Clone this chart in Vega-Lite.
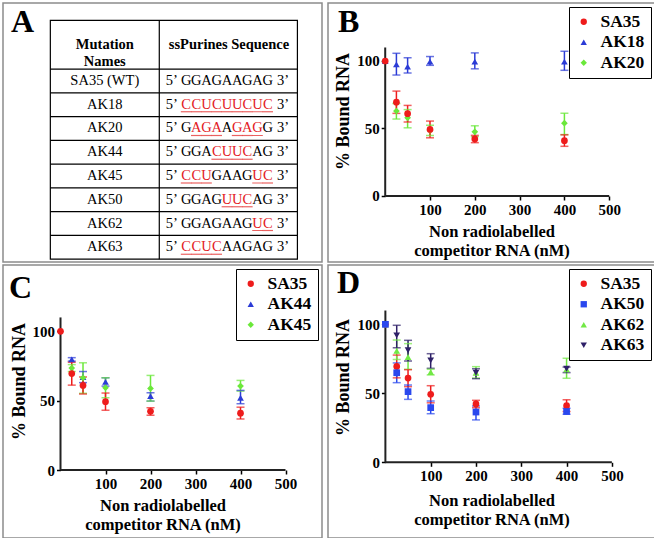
{
  "$schema": "https://vega.github.io/schema/vega-lite/v6.json",
  "background": "white",
  "padding": {"left": 2, "top": 2, "right": 0, "bottom": 0},
  "config": {
    "font": "Liberation Serif",
    "style": {"guide-label": {"font": "Liberation Serif"}, "guide-title": {"font": "Liberation Serif"}},
    "view": {"stroke": "#8c8c8c", "strokeWidth": 1.5},
    "axis": {"labelFont": "Liberation Serif", "labelFontWeight": "bold", "labelFontSize": 15, "labelColor": "black", "titleFont": "Liberation Serif", "titleFontWeight": "bold", "titleFontSize": 16.5, "titleColor": "black", "tickColor": "black", "tickWidth": 1.5, "tickSize": 4, "domain": false, "grid": false, "labelPadding": 2, "labelOverlap": false, "labelFlush": false, "labelBound": false},
    "axisY": {"titleFontSize": 18},
    "legend": {"orient": "top-right", "offset": 4, "strokeColor": "black", "fillColor": "white", "padding": 6, "labelFont": "Liberation Serif", "labelFontWeight": "bold", "labelFontSize": 17.5, "labelColor": "black", "symbolSize": 40, "rowPadding": 1.5, "labelOffset": 8},
    "title": {"font": "Liberation Serif", "fontSize": 32, "fontWeight": "bold", "color": "black", "anchor": "start", "frame": "group"}
  },
  "datasets": {
    "names": [
      {"name": "SA35 (WT)", "row": 1}, {"name": "AK18", "row": 2}, {"name": "AK20", "row": 3}, {"name": "AK44", "row": 4},
      {"name": "AK45", "row": 5}, {"name": "AK50", "row": 6}, {"name": "AK62", "row": 7}, {"name": "AK63", "row": 8}
    ],
    "bases": [
      {"row": 1, "pos": 1, "base": "G", "mut": "no"}, {"row": 1, "pos": 2, "base": "G", "mut": "no"}, {"row": 1, "pos": 3, "base": "A", "mut": "no"}, {"row": 1, "pos": 4, "base": "G", "mut": "no"}, {"row": 1, "pos": 5, "base": "A", "mut": "no"}, {"row": 1, "pos": 6, "base": "A", "mut": "no"}, {"row": 1, "pos": 7, "base": "G", "mut": "no"}, {"row": 1, "pos": 8, "base": "A", "mut": "no"}, {"row": 1, "pos": 9, "base": "G", "mut": "no"},
      {"row": 2, "pos": 1, "base": "C", "mut": "yes"}, {"row": 2, "pos": 2, "base": "C", "mut": "yes"}, {"row": 2, "pos": 3, "base": "U", "mut": "yes"}, {"row": 2, "pos": 4, "base": "C", "mut": "yes"}, {"row": 2, "pos": 5, "base": "U", "mut": "yes"}, {"row": 2, "pos": 6, "base": "U", "mut": "yes"}, {"row": 2, "pos": 7, "base": "C", "mut": "yes"}, {"row": 2, "pos": 8, "base": "U", "mut": "yes"}, {"row": 2, "pos": 9, "base": "C", "mut": "yes"},
      {"row": 3, "pos": 1, "base": "G", "mut": "no"}, {"row": 3, "pos": 2, "base": "A", "mut": "yes"}, {"row": 3, "pos": 3, "base": "G", "mut": "yes"}, {"row": 3, "pos": 4, "base": "A", "mut": "yes"}, {"row": 3, "pos": 5, "base": "A", "mut": "no"}, {"row": 3, "pos": 6, "base": "G", "mut": "yes"}, {"row": 3, "pos": 7, "base": "A", "mut": "yes"}, {"row": 3, "pos": 8, "base": "G", "mut": "yes"}, {"row": 3, "pos": 9, "base": "G", "mut": "no"},
      {"row": 4, "pos": 1, "base": "G", "mut": "no"}, {"row": 4, "pos": 2, "base": "G", "mut": "no"}, {"row": 4, "pos": 3, "base": "A", "mut": "no"}, {"row": 4, "pos": 4, "base": "C", "mut": "yes"}, {"row": 4, "pos": 5, "base": "U", "mut": "yes"}, {"row": 4, "pos": 6, "base": "U", "mut": "yes"}, {"row": 4, "pos": 7, "base": "C", "mut": "yes"}, {"row": 4, "pos": 8, "base": "A", "mut": "no"}, {"row": 4, "pos": 9, "base": "G", "mut": "no"},
      {"row": 5, "pos": 1, "base": "C", "mut": "yes"}, {"row": 5, "pos": 2, "base": "C", "mut": "yes"}, {"row": 5, "pos": 3, "base": "U", "mut": "yes"}, {"row": 5, "pos": 4, "base": "G", "mut": "no"}, {"row": 5, "pos": 5, "base": "A", "mut": "no"}, {"row": 5, "pos": 6, "base": "A", "mut": "no"}, {"row": 5, "pos": 7, "base": "G", "mut": "no"}, {"row": 5, "pos": 8, "base": "U", "mut": "yes"}, {"row": 5, "pos": 9, "base": "C", "mut": "yes"},
      {"row": 6, "pos": 1, "base": "G", "mut": "no"}, {"row": 6, "pos": 2, "base": "G", "mut": "no"}, {"row": 6, "pos": 3, "base": "A", "mut": "no"}, {"row": 6, "pos": 4, "base": "G", "mut": "no"}, {"row": 6, "pos": 5, "base": "U", "mut": "yes"}, {"row": 6, "pos": 6, "base": "U", "mut": "yes"}, {"row": 6, "pos": 7, "base": "C", "mut": "yes"}, {"row": 6, "pos": 8, "base": "A", "mut": "no"}, {"row": 6, "pos": 9, "base": "G", "mut": "no"},
      {"row": 7, "pos": 1, "base": "G", "mut": "no"}, {"row": 7, "pos": 2, "base": "G", "mut": "no"}, {"row": 7, "pos": 3, "base": "A", "mut": "no"}, {"row": 7, "pos": 4, "base": "G", "mut": "no"}, {"row": 7, "pos": 5, "base": "A", "mut": "no"}, {"row": 7, "pos": 6, "base": "A", "mut": "no"}, {"row": 7, "pos": 7, "base": "G", "mut": "no"}, {"row": 7, "pos": 8, "base": "U", "mut": "yes"}, {"row": 7, "pos": 9, "base": "C", "mut": "yes"},
      {"row": 8, "pos": 1, "base": "C", "mut": "yes"}, {"row": 8, "pos": 2, "base": "C", "mut": "yes"}, {"row": 8, "pos": 3, "base": "U", "mut": "yes"}, {"row": 8, "pos": 4, "base": "C", "mut": "yes"}, {"row": 8, "pos": 5, "base": "A", "mut": "no"}, {"row": 8, "pos": 6, "base": "A", "mut": "no"}, {"row": 8, "pos": 7, "base": "G", "mut": "no"}, {"row": 8, "pos": 8, "base": "A", "mut": "no"}, {"row": 8, "pos": 9, "base": "G", "mut": "no"}
    ],
    "pts": [
      {"panel": "B", "series": "AK18", "conc": 0, "mean": 100},
      {"panel": "B", "series": "AK18", "conc": 25, "mean": 97.5, "lo": 89.6, "hi": 105.7},
      {"panel": "B", "series": "AK18", "conc": 50, "mean": 95.8, "lo": 91.1, "hi": 102.4},
      {"panel": "B", "series": "AK18", "conc": 100, "mean": 99.6, "lo": 96.8, "hi": 103.3},
      {"panel": "B", "series": "AK18", "conc": 200, "mean": 99.6, "lo": 94.2, "hi": 106},
      {"panel": "B", "series": "AK18", "conc": 400, "mean": 99.6, "lo": 93.1, "hi": 107.2},
      {"panel": "B", "series": "AK20", "conc": 25, "mean": 62.9, "lo": 57, "hi": 68.5},
      {"panel": "B", "series": "AK20", "conc": 50, "mean": 57.9, "lo": 50.5, "hi": 64},
      {"panel": "B", "series": "AK20", "conc": 100, "mean": 48.5, "lo": 44.8, "hi": 52.4},
      {"panel": "B", "series": "AK20", "conc": 200, "mean": 47.5, "lo": 44, "hi": 52},
      {"panel": "B", "series": "AK20", "conc": 400, "mean": 53.9, "lo": 45.5, "hi": 61.3},
      {"panel": "B", "series": "SA35", "conc": 0, "mean": 100},
      {"panel": "B", "series": "SA35", "conc": 25, "mean": 69.5, "lo": 61.2, "hi": 77.7},
      {"panel": "B", "series": "SA35", "conc": 50, "mean": 61, "lo": 54.8, "hi": 67.1},
      {"panel": "B", "series": "SA35", "conc": 100, "mean": 49.3, "lo": 43.1, "hi": 55.5},
      {"panel": "B", "series": "SA35", "conc": 200, "mean": 42.3, "lo": 39.5, "hi": 44.9},
      {"panel": "B", "series": "SA35", "conc": 400, "mean": 41, "lo": 36.8, "hi": 45.3},
      {"panel": "C", "series": "AK44", "conc": 25, "mean": 79.7, "lo": 78.5, "hi": 81},
      {"panel": "C", "series": "AK44", "conc": 50, "mean": 67, "lo": 63, "hi": 71},
      {"panel": "C", "series": "AK44", "conc": 100, "mean": 63.5, "lo": 60.5, "hi": 66.5},
      {"panel": "C", "series": "AK44", "conc": 200, "mean": 53.3, "lo": 49.7, "hi": 55.7},
      {"panel": "C", "series": "AK44", "conc": 400, "mean": 52.1, "lo": 47.8, "hi": 57.4},
      {"panel": "C", "series": "AK45", "conc": 25, "mean": 73.5, "lo": 71, "hi": 76},
      {"panel": "C", "series": "AK45", "conc": 50, "mean": 66.5, "lo": 55.3, "hi": 77.3},
      {"panel": "C", "series": "AK45", "conc": 100, "mean": 59.3, "lo": 52.1, "hi": 66.5},
      {"panel": "C", "series": "AK45", "conc": 200, "mean": 58.8, "lo": 49.7, "hi": 68.2},
      {"panel": "C", "series": "AK45", "conc": 400, "mean": 60.5, "lo": 56.9, "hi": 64.6},
      {"panel": "C", "series": "SA35", "conc": 0, "mean": 100},
      {"panel": "C", "series": "SA35", "conc": 25, "mean": 69.5, "lo": 61.2, "hi": 77.7},
      {"panel": "C", "series": "SA35", "conc": 50, "mean": 61, "lo": 54.8, "hi": 67.1},
      {"panel": "C", "series": "SA35", "conc": 100, "mean": 49.3, "lo": 43.1, "hi": 55.5},
      {"panel": "C", "series": "SA35", "conc": 200, "mean": 42.3, "lo": 39.5, "hi": 44.9},
      {"panel": "C", "series": "SA35", "conc": 400, "mean": 41, "lo": 36.8, "hi": 45.3},
      {"panel": "D", "series": "SA35", "conc": 0, "mean": 100},
      {"panel": "D", "series": "SA35", "conc": 25, "mean": 69.5, "lo": 61.2, "hi": 77.7},
      {"panel": "D", "series": "SA35", "conc": 50, "mean": 61, "lo": 54.8, "hi": 67.1},
      {"panel": "D", "series": "SA35", "conc": 100, "mean": 49.3, "lo": 43.1, "hi": 55.5},
      {"panel": "D", "series": "SA35", "conc": 200, "mean": 42.3, "lo": 39.5, "hi": 44.9},
      {"panel": "D", "series": "SA35", "conc": 400, "mean": 41, "lo": 36.8, "hi": 45.3},
      {"panel": "D", "series": "AK62", "conc": 0, "mean": 100},
      {"panel": "D", "series": "AK62", "conc": 25, "mean": 80.7, "lo": 74.5, "hi": 88.6},
      {"panel": "D", "series": "AK62", "conc": 50, "mean": 76.3, "lo": 67.4, "hi": 86},
      {"panel": "D", "series": "AK62", "conc": 100, "mean": 65.4, "lo": 63.3, "hi": 67.4},
      {"panel": "D", "series": "AK62", "conc": 200, "mean": 64.9, "lo": 61, "hi": 69.3},
      {"panel": "D", "series": "AK62", "conc": 400, "mean": 67.4, "lo": 60.9, "hi": 75.4},
      {"panel": "D", "series": "AK63", "conc": 0, "mean": 100},
      {"panel": "D", "series": "AK63", "conc": 25, "mean": 92, "lo": 83, "hi": 99.3},
      {"panel": "D", "series": "AK63", "conc": 50, "mean": 81.2, "lo": 73.4, "hi": 88.4},
      {"panel": "D", "series": "AK63", "conc": 100, "mean": 73.9, "lo": 68.1, "hi": 78.7},
      {"panel": "D", "series": "AK63", "conc": 200, "mean": 64.9, "lo": 60.6, "hi": 67.8},
      {"panel": "D", "series": "AK63", "conc": 400, "mean": 67.8, "lo": 65, "hi": 69},
      {"panel": "D", "series": "AK50", "conc": 0, "mean": 100},
      {"panel": "D", "series": "AK50", "conc": 25, "mean": 64.9, "lo": 57.7, "hi": 72},
      {"panel": "D", "series": "AK50", "conc": 50, "mean": 51.2, "lo": 45.6, "hi": 56},
      {"panel": "D", "series": "AK50", "conc": 100, "mean": 39.6, "lo": 35.2, "hi": 44.4},
      {"panel": "D", "series": "AK50", "conc": 200, "mean": 36.4, "lo": 30.7, "hi": 40.8},
      {"panel": "D", "series": "AK50", "conc": 400, "mean": 36.8, "lo": 34.8, "hi": 39.1}
    ]
  },
  "spacing": 1,
  "resolve": {"scale": {"x": "independent", "y": "independent", "color": "independent", "shape": "independent", "stroke": "independent", "fill": "independent"}, "legend": {"color": "independent", "shape": "independent"}},
  "vconcat": [
    {
      "spacing": 4,
      "resolve": {"scale": {"x": "independent", "y": "independent", "color": "independent", "shape": "independent", "stroke": "independent", "fill": "independent"}, "legend": {"color": "independent", "shape": "independent"}},
      "hconcat": [
        {
          "width": 319, "height": 259,
          "title": {"text": "A", "dx": 8, "offset": -36},
          "layer": [
            {"data": {"values": [{}]}, "mark": {"type": "rect", "fill": null, "stroke": "black", "strokeWidth": 1.2},
             "encoding": {"x": {"datum": -12.31, "type": "quantitative", "scale": {"domain": [-16.95, 14.32], "nice": false, "zero": false}, "axis": null}, "x2": {"datum": 11.91},
                          "y": {"datum": -1.556, "type": "quantitative", "scale": {"domain": [-2.284, 8.621], "nice": false, "zero": false, "reverse": true}, "axis": null}, "y2": {"datum": 8.5}}},
            {"data": {"values": [{}]}, "mark": {"type": "rule", "color": "black", "strokeWidth": 1.2},
             "encoding": {"x": {"datum": -1.63, "type": "quantitative"}, "y": {"datum": -1.556, "type": "quantitative"}, "y2": {"datum": 8.5}}},
            {"data": {"values": [{}]}, "mark": {"type": "rule", "color": "black", "strokeWidth": 1.2}, "encoding": {"x": {"datum": -12.31, "type": "quantitative"}, "x2": {"datum": 11.91}, "y": {"datum": 0.5, "type": "quantitative"}}},
            {"data": {"values": [{}]}, "mark": {"type": "rule", "color": "black", "strokeWidth": 1.2}, "encoding": {"x": {"datum": -12.31, "type": "quantitative"}, "x2": {"datum": 11.91}, "y": {"datum": 1.5, "type": "quantitative"}}},
            {"data": {"values": [{}]}, "mark": {"type": "rule", "color": "black", "strokeWidth": 1.2}, "encoding": {"x": {"datum": -12.31, "type": "quantitative"}, "x2": {"datum": 11.91}, "y": {"datum": 2.5, "type": "quantitative"}}},
            {"data": {"values": [{}]}, "mark": {"type": "rule", "color": "black", "strokeWidth": 1.2}, "encoding": {"x": {"datum": -12.31, "type": "quantitative"}, "x2": {"datum": 11.91}, "y": {"datum": 3.5, "type": "quantitative"}}},
            {"data": {"values": [{}]}, "mark": {"type": "rule", "color": "black", "strokeWidth": 1.2}, "encoding": {"x": {"datum": -12.31, "type": "quantitative"}, "x2": {"datum": 11.91}, "y": {"datum": 4.5, "type": "quantitative"}}},
            {"data": {"values": [{}]}, "mark": {"type": "rule", "color": "black", "strokeWidth": 1.2}, "encoding": {"x": {"datum": -12.31, "type": "quantitative"}, "x2": {"datum": 11.91}, "y": {"datum": 5.5, "type": "quantitative"}}},
            {"data": {"values": [{}]}, "mark": {"type": "rule", "color": "black", "strokeWidth": 1.2}, "encoding": {"x": {"datum": -12.31, "type": "quantitative"}, "x2": {"datum": 11.91}, "y": {"datum": 6.5, "type": "quantitative"}}},
            {"data": {"values": [{}]}, "mark": {"type": "rule", "color": "black", "strokeWidth": 1.2}, "encoding": {"x": {"datum": -12.31, "type": "quantitative"}, "x2": {"datum": 11.91}, "y": {"datum": 7.5, "type": "quantitative"}}},
            {"data": {"values": [{}]}, "mark": {"type": "text", "text": ["Mutation", "Names"], "font": "Liberation Serif", "fontWeight": "bold", "fontSize": 14.5, "lineHeight": 17, "baseline": "middle", "align": "center", "color": "black"},
             "encoding": {"x": {"datum": -6.97, "type": "quantitative"}, "y": {"datum": -0.5, "type": "quantitative"}}},
            {"data": {"values": [{}]}, "mark": {"type": "text", "text": "ssPurines Sequence", "font": "Liberation Serif", "fontWeight": "bold", "fontSize": 14.5, "baseline": "middle", "align": "center", "color": "black"},
             "encoding": {"x": {"datum": 5.2, "type": "quantitative"}, "y": {"datum": -0.5, "type": "quantitative"}}},
            {"data": {"name": "names"}, "mark": {"type": "text", "font": "Liberation Serif", "fontSize": 14.5, "baseline": "middle", "align": "center", "color": "black"},
             "encoding": {"x": {"datum": -6.97, "type": "quantitative"}, "y": {"field": "row", "type": "quantitative"}, "text": {"field": "name"}}},
            {"data": {"name": "names"}, "mark": {"type": "text", "text": "5’", "font": "Liberation Serif", "fontSize": 14.5, "baseline": "middle", "align": "right", "color": "black"},
             "encoding": {"x": {"datum": 0.2, "type": "quantitative"}, "y": {"field": "row", "type": "quantitative"}}},
            {"data": {"name": "names"}, "mark": {"type": "text", "text": "3’", "font": "Liberation Serif", "fontSize": 14.5, "baseline": "middle", "align": "left", "color": "black"},
             "encoding": {"x": {"datum": 9.92, "type": "quantitative"}, "y": {"field": "row", "type": "quantitative"}}},
            {"data": {"name": "bases"}, "mark": {"type": "text", "font": "Liberation Serif", "fontSize": 14.5, "baseline": "middle", "align": "center"},
             "encoding": {"x": {"field": "pos", "type": "quantitative"}, "y": {"field": "row", "type": "quantitative"}, "text": {"field": "base"},
                          "color": {"field": "mut", "type": "nominal", "scale": {"domain": ["no", "yes"], "range": ["black", "#e3201e"]}, "legend": null}}},
            {"data": {"name": "bases"}, "transform": [{"filter": "datum.mut === 'yes'"}], "mark": {"type": "tick", "orient": "horizontal", "size": 10.6, "thickness": 1.2, "yOffset": 7, "color": "#e3201e"},
             "encoding": {"x": {"field": "pos", "type": "quantitative"}, "y": {"field": "row", "type": "quantitative"}}}
          ]
        },
        {
          "width": 327, "height": 259,
          "title": {"text": "B", "dx": 10, "offset": -36},
          "layer": [
            {"data": {"values": [{}]}, "mark": {"type": "rule", "color": "#222", "strokeWidth": 2},
             "encoding": {"x": {"datum": 0, "type": "quantitative", "scale": {"domain": [-127.7, 602.2], "nice": false, "zero": false}, "axis": {"values": [100, 200, 300, 400, 500], "offset": -66, "title": ["Non radiolabelled", "competitor RNA (nM)"], "titlePadding": 6, "titleLineHeight": 19}},
                          "y": {"datum": 0, "type": "quantitative", "scale": {"domain": [-48.9, 142.96], "nice": false, "zero": false}, "axis": {"values": [0, 50, 100], "offset": -57.2, "title": "% Bound RNA", "titleY": 108, "titlePadding": 4}}, "y2": {"datum": 110}}},
            {"data": {"values": [{}]}, "mark": {"type": "rule", "color": "#222", "strokeWidth": 2},
             "encoding": {"x": {"datum": 0, "type": "quantitative", "scale": {"domain": [-127.7, 602.2], "nice": false, "zero": false}, "axis": {"values": [100, 200, 300, 400, 500], "offset": -66, "title": ["Non radiolabelled", "competitor RNA (nM)"], "titlePadding": 6, "titleLineHeight": 19}}, "x2": {"datum": 500},
                          "y": {"datum": 0, "type": "quantitative", "scale": {"domain": [-48.9, 142.96], "nice": false, "zero": false}, "axis": {"values": [0, 50, 100], "offset": -57.2, "title": "% Bound RNA", "titleY": 108, "titlePadding": 4}}}},
            {"data": {"name": "pts"}, "transform": [{"filter": "datum.panel === 'B' && isValid(datum.lo)"}], "mark": {"type": "rule", "strokeWidth": 1.5},
             "encoding": {"x": {"field": "conc", "type": "quantitative", "scale": {"domain": [-127.7, 602.2], "nice": false, "zero": false}, "axis": {"values": [100, 200, 300, 400, 500], "offset": -66, "title": ["Non radiolabelled", "competitor RNA (nM)"], "titlePadding": 6, "titleLineHeight": 19}},
                          "y": {"field": "lo", "type": "quantitative", "scale": {"domain": [-48.9, 142.96], "nice": false, "zero": false}, "axis": {"values": [0, 50, 100], "offset": -57.2, "title": "% Bound RNA", "titleY": 108, "titlePadding": 4}}, "y2": {"field": "hi"},
                          "stroke": {"field": "series", "type": "nominal", "scale": {"domain": ["AK20", "AK18", "SA35"], "range": ["#6be83a", "#2b3bd6", "#ee1c1c"]}, "legend": null}}},
            {"data": {"name": "pts"}, "transform": [{"filter": "datum.panel === 'B' && isValid(datum.lo)"}], "mark": {"type": "tick", "orient": "horizontal", "size": 8, "thickness": 1.5},
             "encoding": {"x": {"field": "conc", "type": "quantitative", "scale": {"domain": [-127.7, 602.2], "nice": false, "zero": false}, "axis": {"values": [100, 200, 300, 400, 500], "offset": -66, "title": ["Non radiolabelled", "competitor RNA (nM)"], "titlePadding": 6, "titleLineHeight": 19}},
                          "y": {"field": "lo", "type": "quantitative", "scale": {"domain": [-48.9, 142.96], "nice": false, "zero": false}, "axis": {"values": [0, 50, 100], "offset": -57.2, "title": "% Bound RNA", "titleY": 108, "titlePadding": 4}},
                          "fill": {"field": "series", "type": "nominal", "scale": {"domain": ["AK18", "SA35", "AK20"], "range": ["#2b3bd6", "#ee1c1c", "#6be83a"]}, "legend": null}}},
            {"data": {"name": "pts"}, "transform": [{"filter": "datum.panel === 'B' && isValid(datum.hi)"}], "mark": {"type": "tick", "orient": "horizontal", "size": 8, "thickness": 1.5},
             "encoding": {"x": {"field": "conc", "type": "quantitative", "scale": {"domain": [-127.7, 602.2], "nice": false, "zero": false}, "axis": {"values": [100, 200, 300, 400, 500], "offset": -66, "title": ["Non radiolabelled", "competitor RNA (nM)"], "titlePadding": 6, "titleLineHeight": 19}},
                          "y": {"field": "hi", "type": "quantitative", "scale": {"domain": [-48.9, 142.96], "nice": false, "zero": false}, "axis": {"values": [0, 50, 100], "offset": -57.2, "title": "% Bound RNA", "titleY": 108, "titlePadding": 4}},
                          "fill": {"field": "series", "type": "nominal", "scale": {"domain": ["AK18", "SA35", "AK20"], "range": ["#2b3bd6", "#ee1c1c", "#6be83a"]}, "legend": null}}},
            {"data": {"name": "pts"}, "transform": [{"filter": "datum.panel === 'B'"}], "mark": {"type": "point", "filled": true, "size": 45, "opacity": 1},
             "encoding": {"x": {"field": "conc", "type": "quantitative", "scale": {"domain": [-127.7, 602.2], "nice": false, "zero": false}, "axis": {"values": [100, 200, 300, 400, 500], "offset": -66, "title": ["Non radiolabelled", "competitor RNA (nM)"], "titlePadding": 6, "titleLineHeight": 19}},
                          "y": {"field": "mean", "type": "quantitative", "scale": {"domain": [-48.9, 142.96], "nice": false, "zero": false}, "axis": {"values": [0, 50, 100], "offset": -57.2, "title": "% Bound RNA", "titleY": 108, "titlePadding": 4}},
                          "color": {"field": "series", "type": "nominal", "scale": {"domain": ["SA35", "AK18", "AK20"], "range": ["#ee1c1c", "#2b3bd6", "#6be83a"]}, "legend": {"title": null, "labelFont": "Liberation Serif", "labelFontWeight": "bold"}},
                          "shape": {"field": "series", "type": "nominal", "scale": {"domain": ["SA35", "AK18", "AK20"], "range": ["circle", "triangle-up", "diamond"]}, "legend": {"title": null, "labelFont": "Liberation Serif", "labelFontWeight": "bold"}}}}
          ]
        }
      ]
    },
    {
      "spacing": 4,
      "resolve": {"scale": {"x": "independent", "y": "independent", "color": "independent", "shape": "independent", "stroke": "independent", "fill": "independent"}, "legend": {"color": "independent", "shape": "independent"}},
      "hconcat": [
        {
          "width": 319, "height": 273,
          "title": {"text": "C", "dx": 6, "offset": -40},
          "layer": [
            {"data": {"values": [{}]}, "mark": {"type": "rule", "color": "#222", "strokeWidth": 2},
             "encoding": {"x": {"datum": 0, "type": "quantitative", "scale": {"domain": [-127.8, 581.1], "nice": false, "zero": false}, "axis": {"values": [100, 200, 300, 400, 500], "offset": -68, "title": ["Non radiolabelled", "competitor RNA (nM)"], "titlePadding": 6, "titleLineHeight": 19}},
                          "y": {"datum": 0, "type": "quantitative", "scale": {"domain": [-49, 147.8], "nice": false, "zero": false}, "axis": {"values": [0, 50, 100], "offset": -57.5, "title": "% Bound RNA", "titleY": 116, "titlePadding": 4}}, "y2": {"datum": 110}}},
            {"data": {"values": [{}]}, "mark": {"type": "rule", "color": "#222", "strokeWidth": 2},
             "encoding": {"x": {"datum": 0, "type": "quantitative", "scale": {"domain": [-127.8, 581.1], "nice": false, "zero": false}, "axis": {"values": [100, 200, 300, 400, 500], "offset": -68, "title": ["Non radiolabelled", "competitor RNA (nM)"], "titlePadding": 6, "titleLineHeight": 19}}, "x2": {"datum": 500},
                          "y": {"datum": 0, "type": "quantitative", "scale": {"domain": [-49, 147.8], "nice": false, "zero": false}, "axis": {"values": [0, 50, 100], "offset": -57.5, "title": "% Bound RNA", "titleY": 116, "titlePadding": 4}}}},
            {"data": {"name": "pts"}, "transform": [{"filter": "datum.panel === 'C' && isValid(datum.lo)"}], "mark": {"type": "rule", "strokeWidth": 1.5},
             "encoding": {"x": {"field": "conc", "type": "quantitative", "scale": {"domain": [-127.8, 581.1], "nice": false, "zero": false}, "axis": {"values": [100, 200, 300, 400, 500], "offset": -68, "title": ["Non radiolabelled", "competitor RNA (nM)"], "titlePadding": 6, "titleLineHeight": 19}},
                          "y": {"field": "lo", "type": "quantitative", "scale": {"domain": [-49, 147.8], "nice": false, "zero": false}, "axis": {"values": [0, 50, 100], "offset": -57.5, "title": "% Bound RNA", "titleY": 116, "titlePadding": 4}}, "y2": {"field": "hi"},
                          "stroke": {"field": "series", "type": "nominal", "scale": {"domain": ["AK45", "AK44", "SA35"], "range": ["#6be83a", "#2b3bd6", "#ee1c1c"]}, "legend": null}}},
            {"data": {"name": "pts"}, "transform": [{"filter": "datum.panel === 'C' && isValid(datum.lo)"}], "mark": {"type": "tick", "orient": "horizontal", "size": 8, "thickness": 1.5},
             "encoding": {"x": {"field": "conc", "type": "quantitative", "scale": {"domain": [-127.8, 581.1], "nice": false, "zero": false}, "axis": {"values": [100, 200, 300, 400, 500], "offset": -68, "title": ["Non radiolabelled", "competitor RNA (nM)"], "titlePadding": 6, "titleLineHeight": 19}},
                          "y": {"field": "lo", "type": "quantitative", "scale": {"domain": [-49, 147.8], "nice": false, "zero": false}, "axis": {"values": [0, 50, 100], "offset": -57.5, "title": "% Bound RNA", "titleY": 116, "titlePadding": 4}},
                          "fill": {"field": "series", "type": "nominal", "scale": {"domain": ["AK44", "SA35", "AK45"], "range": ["#2b3bd6", "#ee1c1c", "#6be83a"]}, "legend": null}}},
            {"data": {"name": "pts"}, "transform": [{"filter": "datum.panel === 'C' && isValid(datum.hi)"}], "mark": {"type": "tick", "orient": "horizontal", "size": 8, "thickness": 1.5},
             "encoding": {"x": {"field": "conc", "type": "quantitative", "scale": {"domain": [-127.8, 581.1], "nice": false, "zero": false}, "axis": {"values": [100, 200, 300, 400, 500], "offset": -68, "title": ["Non radiolabelled", "competitor RNA (nM)"], "titlePadding": 6, "titleLineHeight": 19}},
                          "y": {"field": "hi", "type": "quantitative", "scale": {"domain": [-49, 147.8], "nice": false, "zero": false}, "axis": {"values": [0, 50, 100], "offset": -57.5, "title": "% Bound RNA", "titleY": 116, "titlePadding": 4}},
                          "fill": {"field": "series", "type": "nominal", "scale": {"domain": ["AK44", "SA35", "AK45"], "range": ["#2b3bd6", "#ee1c1c", "#6be83a"]}, "legend": null}}},
            {"data": {"name": "pts"}, "transform": [{"filter": "datum.panel === 'C'"}], "mark": {"type": "point", "filled": true, "size": 45, "opacity": 1},
             "encoding": {"x": {"field": "conc", "type": "quantitative", "scale": {"domain": [-127.8, 581.1], "nice": false, "zero": false}, "axis": {"values": [100, 200, 300, 400, 500], "offset": -68, "title": ["Non radiolabelled", "competitor RNA (nM)"], "titlePadding": 6, "titleLineHeight": 19}},
                          "y": {"field": "mean", "type": "quantitative", "scale": {"domain": [-49, 147.8], "nice": false, "zero": false}, "axis": {"values": [0, 50, 100], "offset": -57.5, "title": "% Bound RNA", "titleY": 116, "titlePadding": 4}},
                          "color": {"field": "series", "type": "nominal", "scale": {"domain": ["SA35", "AK44", "AK45"], "range": ["#ee1c1c", "#2b3bd6", "#6be83a"]}, "legend": {"title": null, "labelFont": "Liberation Serif", "labelFontWeight": "bold"}},
                          "shape": {"field": "series", "type": "nominal", "scale": {"domain": ["SA35", "AK44", "AK45"], "range": ["circle", "triangle-up", "diamond"]}, "legend": {"title": null, "labelFont": "Liberation Serif", "labelFontWeight": "bold"}}}}
          ]
        },
        {
          "width": 327, "height": 273,
          "title": {"text": "D", "dx": 9, "offset": -35},
          "layer": [
            {"data": {"values": [{}]}, "mark": {"type": "rule", "color": "#222", "strokeWidth": 2},
             "encoding": {"x": {"datum": 0, "type": "quantitative", "scale": {"domain": [-126.7, 595.2], "nice": false, "zero": false}, "axis": {"values": [100, 200, 300, 400, 500], "offset": -75.7, "title": ["Non radiolabelled", "competitor RNA (nM)"], "titlePadding": 9, "titleLineHeight": 19}},
                          "y": {"datum": 0, "type": "quantitative", "scale": {"domain": [-54.9, 143], "nice": false, "zero": false}, "axis": {"values": [0, 50, 100], "offset": -57.4, "title": "% Bound RNA", "titleY": 112, "titlePadding": 4}}, "y2": {"datum": 110}}},
            {"data": {"values": [{}]}, "mark": {"type": "rule", "color": "#222", "strokeWidth": 2},
             "encoding": {"x": {"datum": 0, "type": "quantitative", "scale": {"domain": [-126.7, 595.2], "nice": false, "zero": false}, "axis": {"values": [100, 200, 300, 400, 500], "offset": -75.7, "title": ["Non radiolabelled", "competitor RNA (nM)"], "titlePadding": 9, "titleLineHeight": 19}}, "x2": {"datum": 500},
                          "y": {"datum": 0, "type": "quantitative", "scale": {"domain": [-54.9, 143], "nice": false, "zero": false}, "axis": {"values": [0, 50, 100], "offset": -57.4, "title": "% Bound RNA", "titleY": 112, "titlePadding": 4}}}},
            {"data": {"name": "pts"}, "transform": [{"filter": "datum.panel === 'D' && isValid(datum.lo)"}], "mark": {"type": "rule", "strokeWidth": 1.5},
             "encoding": {"x": {"field": "conc", "type": "quantitative", "scale": {"domain": [-126.7, 595.2], "nice": false, "zero": false}, "axis": {"values": [100, 200, 300, 400, 500], "offset": -75.7, "title": ["Non radiolabelled", "competitor RNA (nM)"], "titlePadding": 9, "titleLineHeight": 19}},
                          "y": {"field": "lo", "type": "quantitative", "scale": {"domain": [-54.9, 143], "nice": false, "zero": false}, "axis": {"values": [0, 50, 100], "offset": -57.4, "title": "% Bound RNA", "titleY": 112, "titlePadding": 4}}, "y2": {"field": "hi"},
                          "stroke": {"field": "series", "type": "nominal", "scale": {"domain": ["AK63", "AK62", "AK50", "SA35"], "range": ["#2e2068", "#72e845", "#2a48ee", "#ee1c1c"]}, "legend": null}}},
            {"data": {"name": "pts"}, "transform": [{"filter": "datum.panel === 'D' && isValid(datum.lo)"}], "mark": {"type": "tick", "orient": "horizontal", "size": 8, "thickness": 1.5},
             "encoding": {"x": {"field": "conc", "type": "quantitative", "scale": {"domain": [-126.7, 595.2], "nice": false, "zero": false}, "axis": {"values": [100, 200, 300, 400, 500], "offset": -75.7, "title": ["Non radiolabelled", "competitor RNA (nM)"], "titlePadding": 9, "titleLineHeight": 19}},
                          "y": {"field": "lo", "type": "quantitative", "scale": {"domain": [-54.9, 143], "nice": false, "zero": false}, "axis": {"values": [0, 50, 100], "offset": -57.4, "title": "% Bound RNA", "titleY": 112, "titlePadding": 4}},
                          "fill": {"field": "series", "type": "nominal", "scale": {"domain": ["AK50", "SA35", "AK62", "AK63"], "range": ["#2a48ee", "#ee1c1c", "#72e845", "#2e2068"]}, "legend": null}}},
            {"data": {"name": "pts"}, "transform": [{"filter": "datum.panel === 'D' && isValid(datum.hi)"}], "mark": {"type": "tick", "orient": "horizontal", "size": 8, "thickness": 1.5},
             "encoding": {"x": {"field": "conc", "type": "quantitative", "scale": {"domain": [-126.7, 595.2], "nice": false, "zero": false}, "axis": {"values": [100, 200, 300, 400, 500], "offset": -75.7, "title": ["Non radiolabelled", "competitor RNA (nM)"], "titlePadding": 9, "titleLineHeight": 19}},
                          "y": {"field": "hi", "type": "quantitative", "scale": {"domain": [-54.9, 143], "nice": false, "zero": false}, "axis": {"values": [0, 50, 100], "offset": -57.4, "title": "% Bound RNA", "titleY": 112, "titlePadding": 4}},
                          "fill": {"field": "series", "type": "nominal", "scale": {"domain": ["AK50", "SA35", "AK62", "AK63"], "range": ["#2a48ee", "#ee1c1c", "#72e845", "#2e2068"]}, "legend": null}}},
            {"data": {"name": "pts"}, "transform": [{"filter": "datum.panel === 'D'"}], "mark": {"type": "point", "filled": true, "size": 45, "opacity": 1},
             "encoding": {"x": {"field": "conc", "type": "quantitative", "scale": {"domain": [-126.7, 595.2], "nice": false, "zero": false}, "axis": {"values": [100, 200, 300, 400, 500], "offset": -75.7, "title": ["Non radiolabelled", "competitor RNA (nM)"], "titlePadding": 9, "titleLineHeight": 19}},
                          "y": {"field": "mean", "type": "quantitative", "scale": {"domain": [-54.9, 143], "nice": false, "zero": false}, "axis": {"values": [0, 50, 100], "offset": -57.4, "title": "% Bound RNA", "titleY": 112, "titlePadding": 4}},
                          "color": {"field": "series", "type": "nominal", "scale": {"domain": ["SA35", "AK50", "AK62", "AK63"], "range": ["#ee1c1c", "#2a48ee", "#72e845", "#2e2068"]}, "legend": {"title": null, "labelFont": "Liberation Serif", "labelFontWeight": "bold"}},
                          "shape": {"field": "series", "type": "nominal", "scale": {"domain": ["SA35", "AK50", "AK62", "AK63"], "range": ["circle", "square", "triangle-up", "triangle-down"]}, "legend": {"title": null, "labelFont": "Liberation Serif", "labelFontWeight": "bold"}}}}
          ]
        }
      ]
    }
  ]
}
